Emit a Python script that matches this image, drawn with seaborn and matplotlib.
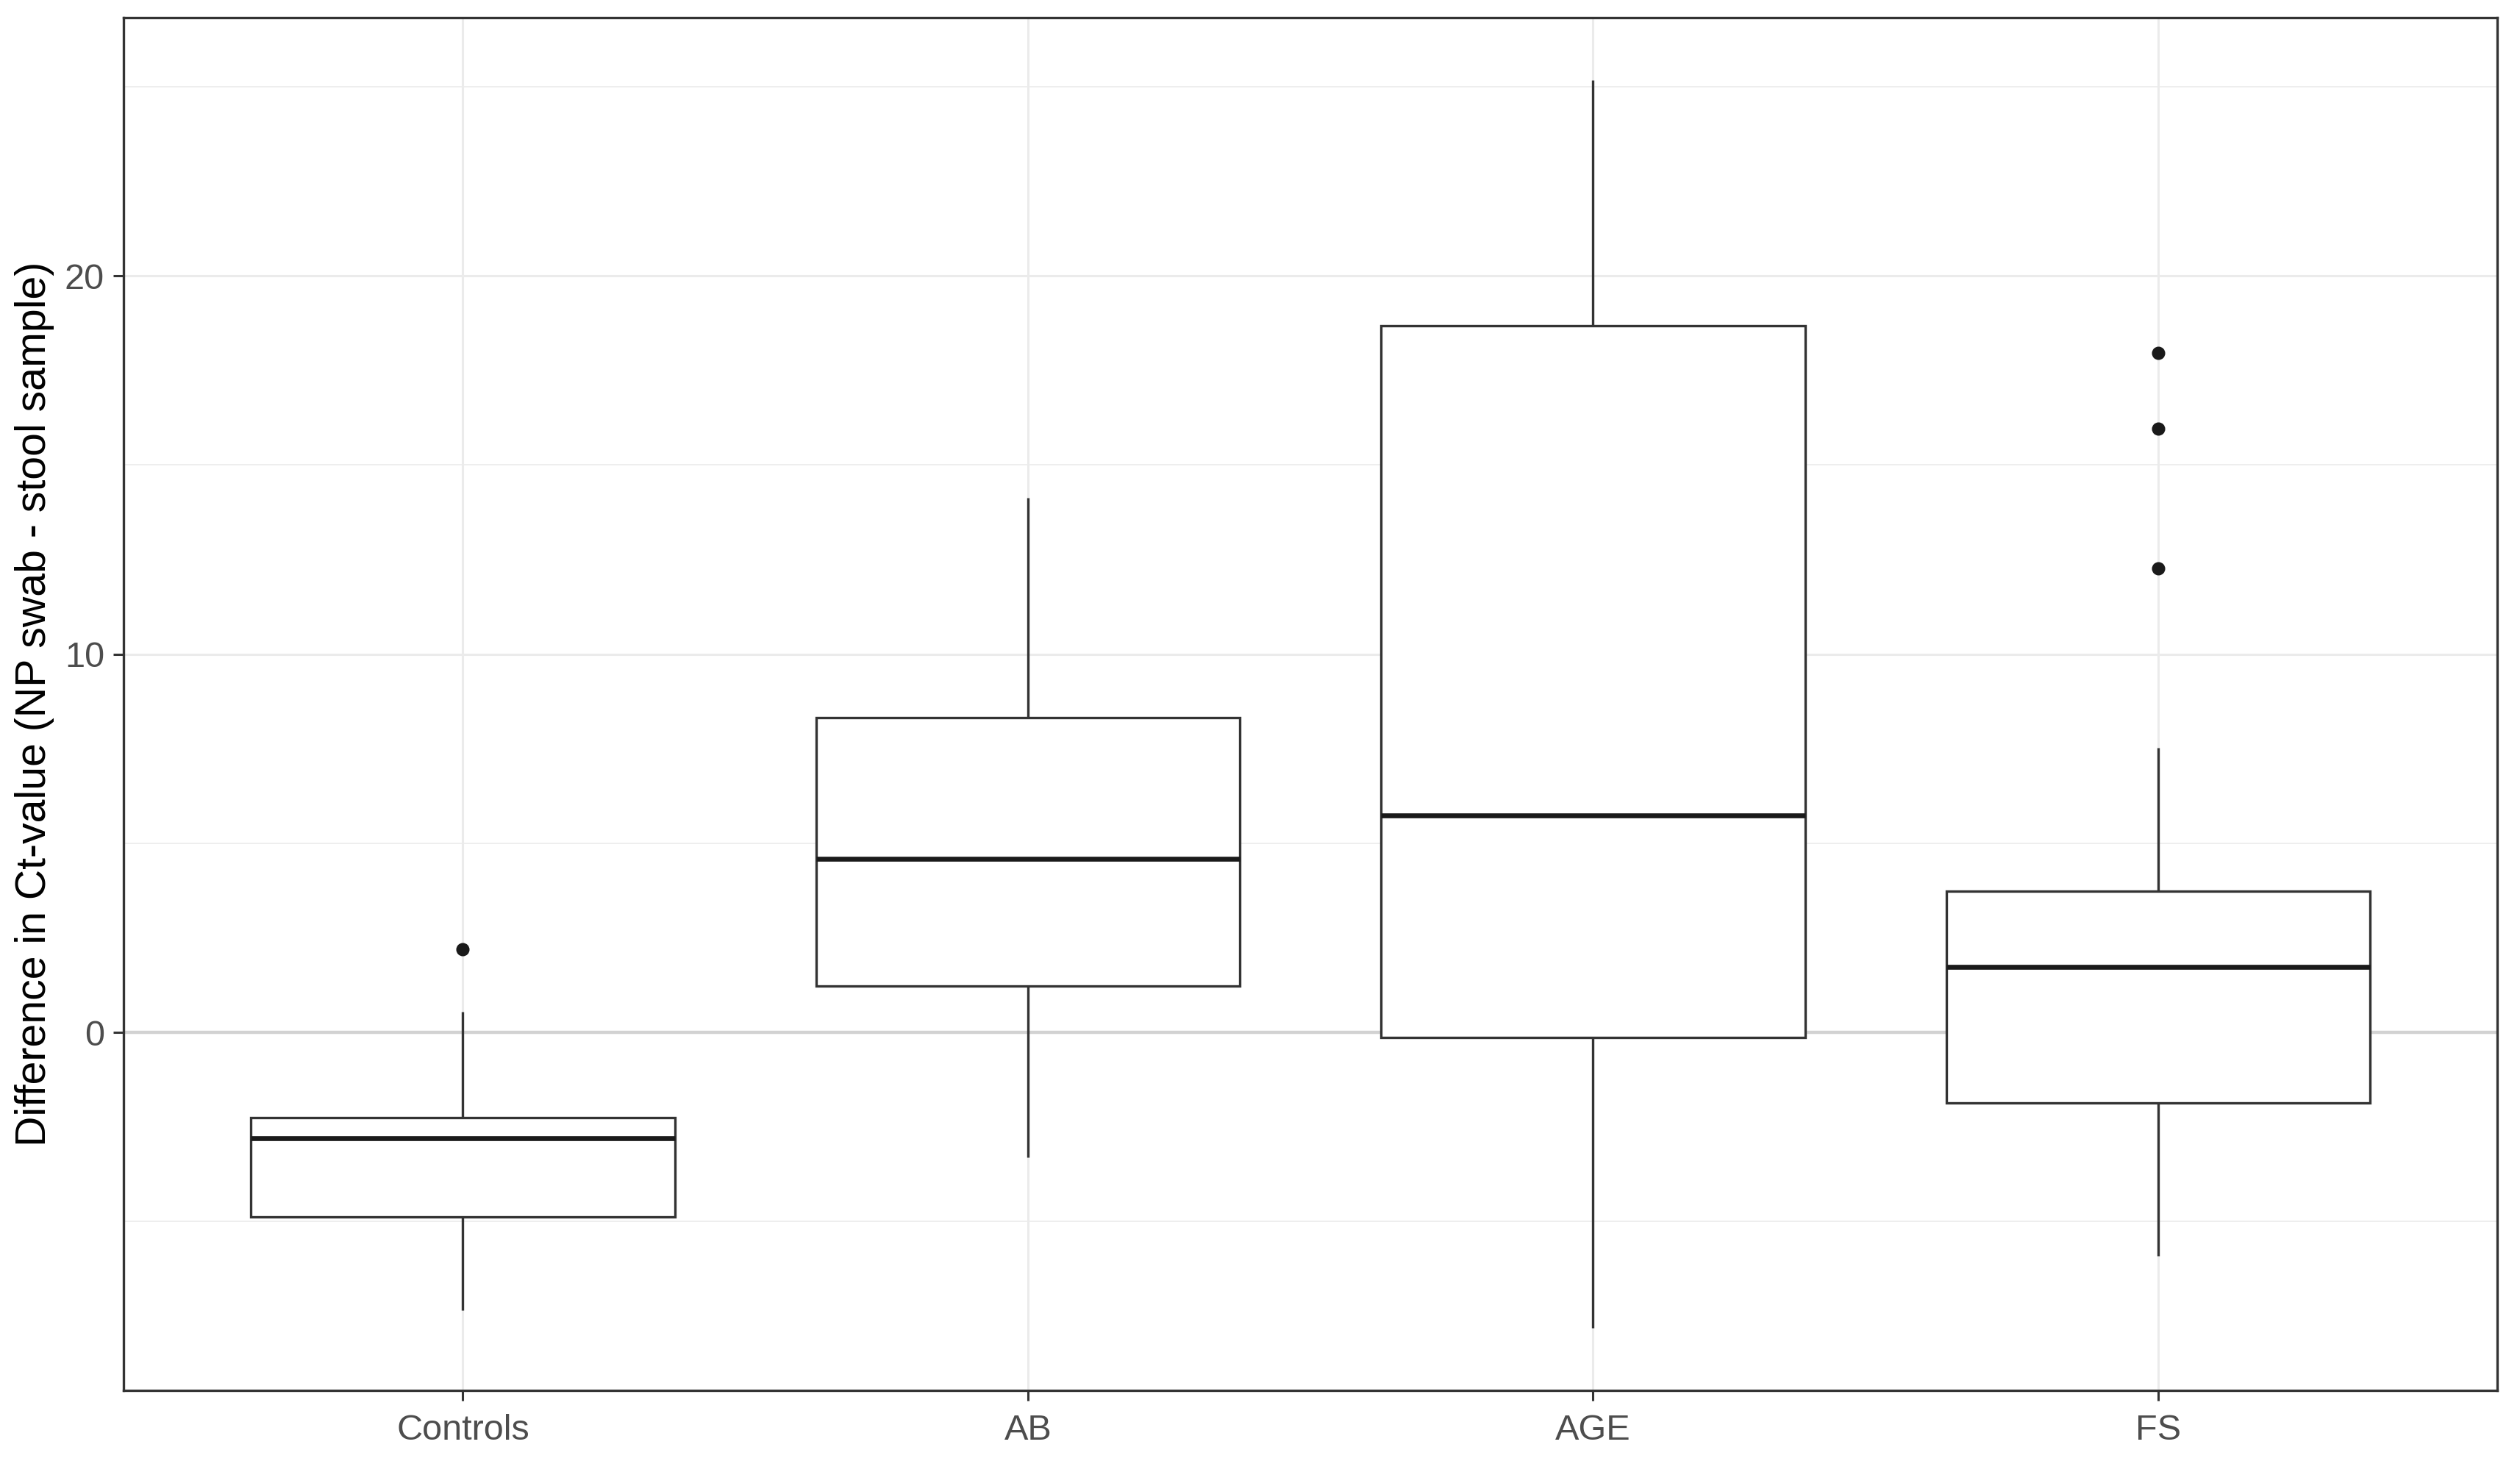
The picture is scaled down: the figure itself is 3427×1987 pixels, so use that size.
import pandas as pd
import matplotlib.pyplot as plt
import seaborn as sns
from matplotlib.ticker import MultipleLocator


groups = ['Controls', 'AB', 'AGE', 'FS']
whisker_low = [-7.35, -3.31, -7.81, -5.90]
q1 = [-4.88, 1.23, -0.13, -1.87]
median = [-2.80, 4.59, 5.73, 1.74]
q3 = [-2.25, 8.32, 18.68, 3.74]
whisker_high = [0.55, 14.14, 25.18, 7.52]
outliers = [[2.2], [], [], [12.27, 15.97, 17.96]]

# rebuild a small sample per group whose quartiles / whiskers / outliers
# land exactly on the values (n = 4m + 1)
m = 4
rows = []
for i, g in enumerate(groups):
    top = [whisker_high[i]] * (m - len(outliers[i])) + outliers[i]
    vals = [whisker_low[i]] + [q1[i]] * m + [median[i]] * m + [q3[i]] * m + top
    rows += [(g, v) for v in vals]
df = pd.DataFrame(rows, columns=['group', 'value'])

sns.set_theme(style='white')
plt.rcParams['font.family'] = ['Liberation Sans', 'DejaVu Sans']

fig, ax = plt.subplots(figsize=(17.135, 9.935), dpi=200)
fig.subplots_adjust(left=0.0491, right=0.991, top=0.988, bottom=0.0484)

ax.axhline(0, color='#D2D2D2', lw=1.6, zorder=0.6)
sns.boxplot(data=df, x='group', y='value', order=groups, width=0.75,
            color='white', linecolor='#333333', linewidth=1.2,
            showcaps=False, whis=1.5, fliersize=5.5,
            flierprops=dict(marker='o', markerfacecolor='#1a1a1a',
                            markeredgecolor='#1a1a1a'),
            medianprops=dict(color='#1a1a1a', linewidth=2.4), ax=ax)

lo = min(whisker_low)
hi = max(whisker_high + sum(outliers, []))
pad = 0.05 * (hi - lo)
ax.set_ylim(lo - pad, hi + pad)
ax.set_xlim(-0.6, 3.6)

ax.yaxis.set_major_locator(MultipleLocator(10))
ax.yaxis.set_minor_locator(MultipleLocator(5))
ax.set_axisbelow(True)
ax.grid(which='major', color='#EBEBEB', lw=1.1)
ax.grid(which='minor', axis='y', color='#EBEBEB', lw=0.6)

for s in ax.spines.values():
    s.set_visible(True)
    s.set_color('#333333')
    s.set_linewidth(1.2)

ax.tick_params(axis='both', which='major', length=5, width=1.1, color='#333333',
               labelcolor='#4D4D4D', labelsize=17.5, left=True, bottom=True)
ax.tick_params(axis='x', which='major', pad=6.5)
ax.tick_params(axis='y', which='major', pad=4.5)
ax.tick_params(axis='y', which='minor', length=0)
ax.set_xlabel('')
ax.set_ylabel('Difference in Ct-value (NP swab - stool sample)', fontsize=20.6,
              color='black', labelpad=5)

plt.savefig('out.png', dpi=200)
